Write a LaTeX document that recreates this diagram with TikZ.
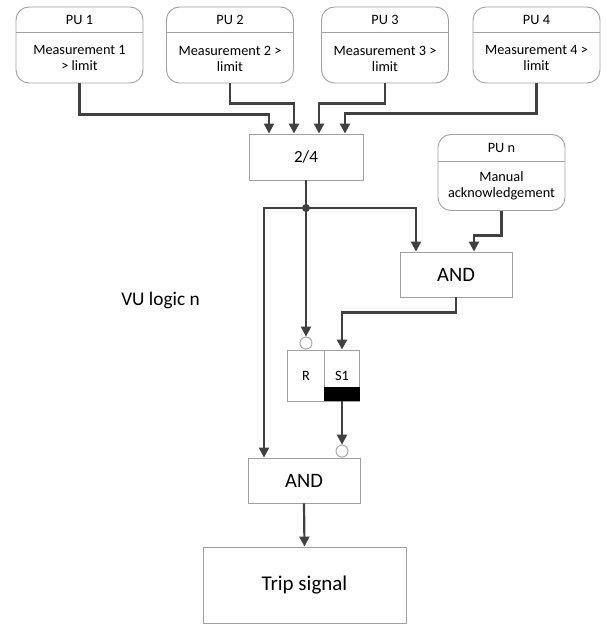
\documentclass[tikz,border=0pt]{standalone}
\usepackage{fontspec}
\setmainfont{Carlito}
\usepackage{tikz}
\usetikzlibrary{arrows.meta,positioning,calc}

\definecolor{wiregray}{RGB}{64,64,64}
\definecolor{framegray}{RGB}{160,160,160}

\begin{document}
\begin{tikzpicture}[x=1pt,y=-1pt,
  frame/.style={draw=framegray,line width=0.9pt},
  pubox/.style={frame,rounded corners=13pt,minimum width=127pt,minimum height=76pt,inner sep=0pt},
  logicbox/.style={frame,minimum width=112pt,minimum height=45pt,inner sep=0pt,font=\fontsize{20.5}{22}\selectfont},
  lbl/.style={inner sep=0pt,align=center,font=\fontsize{14.3}{16}\selectfont},
  wire/.style={draw=wiregray,line width=2.2pt},
  conn/.style={wire,-{Triangle[width=10pt,length=10pt]}},
  neg/.style={circle,frame,fill=white,minimum size=12pt,inner sep=0pt},
  dot/.style={circle,fill=wiregray,minimum size=8pt,inner sep=0pt}]
\useasboundingbox (0,0) rectangle (606,626);

% processing units
\foreach \n/\x/\txt in {1/79.5/{Measurement 1\\> limit},2/230/{Measurement 2 >\\limit},3/385/{Measurement 3 >\\limit},4/536.5/{Measurement 4 >\\limit}}{
  \node[pubox] (pu\n) at (\x,45) {};
  \draw[frame] ([yshift=-26pt]pu\n.north west) -- ([yshift=-26pt]pu\n.north east);
  \node[lbl] (pu\n h) at ([yshift=-13pt]pu\n.north) {PU \n};
  \node[lbl] (pu\n t) at ([yshift=25pt]pu\n.south) {\txt};
}

\node[pubox] (pun) at (501.5,172.5) {};
\draw[frame] ([yshift=-27pt]pun.north west) -- ([yshift=-27pt]pun.north east);
\node[lbl] (punh) at ([yshift=-13.5pt]pun.north) {PU n};
\node[lbl] (punt) at ([yshift=25pt]pun.south) {Manual\\acknowledgement};

% logic
\node[frame,minimum width=114pt,minimum height=46pt,inner sep=0pt,font=\fontsize{17}{18}\selectfont] (vote) at (306,157) {2/4};
\node[logicbox] (and1) at (456,274.5) {AND};
\node[frame,minimum width=37pt,minimum height=51pt,inner sep=0pt,font=\fontsize{14.3}{16}\selectfont] (rbox) at (306,375.5) {R};
\node[frame,minimum width=35pt,minimum height=51pt,inner sep=0pt,font=\fontsize{14.3}{16}\selectfont] (sbox) at (342,375.5) {S1};
\fill[black] (sbox.south west) rectangle ([yshift=14pt]sbox.south east);
\node[logicbox] (and2) at (304,480.5) {AND};
\node[frame,minimum width=203pt,minimum height=76pt,inner sep=0pt,font=\fontsize{21}{23}\selectfont] (trip) at (304.5,585) {Trip signal};
\node[inner sep=0pt,font=\fontsize{19.3}{21}\selectfont] (vulabel) at (160.5,300) {VU logic n};

\node[neg,anchor=south] (rneg) at (rbox.north) {};
\node[neg,anchor=south] (sneg) at ([xshift=38pt]and2.north) {};
\node[dot] (split) at (306,208) {};

% inputs of the voting
\coordinate (in1) at ([xshift=-37pt]vote.north);
\coordinate (in2) at ([xshift=-12pt]vote.north);
\coordinate (in3) at ([xshift=13pt]vote.north);
\coordinate (in4) at ([xshift=39pt]vote.north);
\draw[conn] (pu1.south) |- ([yshift=19pt]in1) -- (in1);
\draw[conn] (pu2.south) |- ([yshift=30pt]in2) -- (in2);
\draw[conn] (pu3.south) |- ([yshift=30pt]in3) -- (in3);
\draw[conn] (pu4.south) |- ([yshift=20pt]in4) -- (in4);

\draw[wire] (vote.south) -- (split.center);
\draw[conn] (split.center) -| ([xshift=-40pt]and2.north);
\draw[conn] (split.center) -| ([xshift=-40pt]and1.north);
\draw[conn] (split.center) -- (rneg.north);
\draw[conn] (pun.south) |- ([xshift=18pt,yshift=16pt]and1.north) -- ([xshift=18pt]and1.north);
\draw[conn] (and1.south) |- ([yshift=37pt]sbox.north) -- (sbox.north);
\draw[conn] (sbox.south) -- (sneg.north);
\draw[conn] (and2.south) -- (trip.north);
\end{tikzpicture}
\end{document}
